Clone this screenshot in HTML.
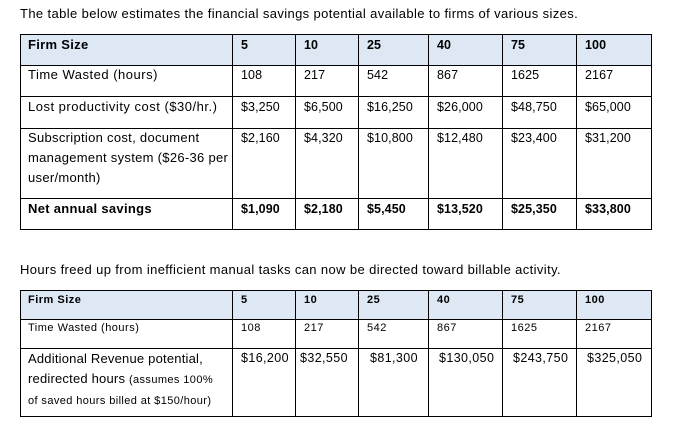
<!DOCTYPE html>
<html><head><meta charset="utf-8"><style>
body{margin:0;width:678px;height:435px;background:#fff;font-family:"Liberation Sans",Arial,sans-serif;color:#000;position:relative;overflow:hidden}
.p{position:absolute;left:20px;font-size:13px;white-space:nowrap;letter-spacing:0.38px}
.l{position:absolute;background:#000}
.c{position:absolute;white-space:nowrap;font-size:12.5px;letter-spacing:0.1px}
.t{font-size:13px;letter-spacing:0.5px}
.s{font-size:11px;letter-spacing:0.5px}
.b{font-weight:bold}
.h{position:absolute;background:#dde8f4}
</style></head><body>
<div class="p" style="top:6px">The table below estimates the financial savings potential available to firms of various sizes.</div>
<div class="p" style="top:262px">Hours freed up from inefficient manual tasks can now be directed toward billable activity.</div>

<!-- table 1 -->
<div class="h" style="left:20px;top:34px;width:632px;height:31px"></div>
<div class="l" style="left:20px;top:34px;width:632px;height:1px"></div>
<div class="l" style="left:20px;top:65px;width:632px;height:1px"></div>
<div class="l" style="left:20px;top:96px;width:632px;height:1px"></div>
<div class="l" style="left:20px;top:128px;width:632px;height:1px"></div>
<div class="l" style="left:20px;top:198px;width:632px;height:1px"></div>
<div class="l" style="left:20px;top:229px;width:632px;height:1px"></div>
<div class="l" style="left:20px;top:34px;width:1px;height:196px"></div>
<div class="l" style="left:232px;top:34px;width:1px;height:196px"></div>
<div class="l" style="left:295px;top:34px;width:1px;height:196px"></div>
<div class="l" style="left:358px;top:34px;width:1px;height:196px"></div>
<div class="l" style="left:428px;top:34px;width:1px;height:196px"></div>
<div class="l" style="left:502px;top:34px;width:1px;height:196px"></div>
<div class="l" style="left:576px;top:34px;width:1px;height:196px"></div>
<div class="l" style="left:651px;top:34px;width:1px;height:196px"></div>

<div class="c t b" style="left:28px;top:37px;letter-spacing:0.3px">Firm Size</div>
<div class="c b" style="left:241px;top:38px">5</div>
<div class="c b" style="left:304px;top:38px">10</div>
<div class="c b" style="left:367px;top:38px">25</div>
<div class="c b" style="left:437px;top:38px">40</div>
<div class="c b" style="left:511px;top:38px">75</div>
<div class="c b" style="left:585px;top:38px">100</div>

<div class="c t" style="left:28px;top:67px">Time Wasted (hours)</div>
<div class="c" style="left:241px;top:68px">108</div>
<div class="c" style="left:304px;top:68px">217</div>
<div class="c" style="left:367px;top:68px">542</div>
<div class="c" style="left:437px;top:68px">867</div>
<div class="c" style="left:511px;top:68px">1625</div>
<div class="c" style="left:585px;top:68px">2167</div>

<div class="c t" style="left:28px;top:99px">Lost productivity cost ($30/hr.)</div>
<div class="c" style="left:241px;top:100px">$3,250</div>
<div class="c" style="left:304px;top:100px">$6,500</div>
<div class="c" style="left:367px;top:100px">$16,250</div>
<div class="c" style="left:437px;top:100px">$26,000</div>
<div class="c" style="left:511px;top:100px">$48,750</div>
<div class="c" style="left:585px;top:100px">$65,000</div>

<div class="c t" style="left:28px;top:128px;line-height:20px;letter-spacing:0.3px">Subscription cost, document<br>management system ($26-36 per<br>user/month)</div>
<div class="c" style="left:241px;top:131px">$2,160</div>
<div class="c" style="left:304px;top:131px">$4,320</div>
<div class="c" style="left:367px;top:131px">$10,800</div>
<div class="c" style="left:437px;top:131px">$12,480</div>
<div class="c" style="left:511px;top:131px">$23,400</div>
<div class="c" style="left:585px;top:131px">$31,200</div>

<div class="c t b" style="left:28px;top:201px;letter-spacing:0.3px">Net annual savings</div>
<div class="c b" style="left:241px;top:202px">$1,090</div>
<div class="c b" style="left:304px;top:202px">$2,180</div>
<div class="c b" style="left:367px;top:202px">$5,450</div>
<div class="c b" style="left:437px;top:202px">$13,520</div>
<div class="c b" style="left:511px;top:202px">$25,350</div>
<div class="c b" style="left:585px;top:202px">$33,800</div>

<!-- table 2 -->
<div class="h" style="left:20px;top:290px;width:632px;height:29px"></div>
<div class="l" style="left:20px;top:290px;width:632px;height:1px"></div>
<div class="l" style="left:20px;top:319px;width:632px;height:1px"></div>
<div class="l" style="left:20px;top:348px;width:632px;height:1px"></div>
<div class="l" style="left:20px;top:416px;width:632px;height:1px"></div>
<div class="l" style="left:20px;top:290px;width:1px;height:127px"></div>
<div class="l" style="left:232px;top:290px;width:1px;height:127px"></div>
<div class="l" style="left:295px;top:290px;width:1px;height:127px"></div>
<div class="l" style="left:358px;top:290px;width:1px;height:127px"></div>
<div class="l" style="left:428px;top:290px;width:1px;height:127px"></div>
<div class="l" style="left:502px;top:290px;width:1px;height:127px"></div>
<div class="l" style="left:576px;top:290px;width:1px;height:127px"></div>
<div class="l" style="left:651px;top:290px;width:1px;height:127px"></div>

<div class="c s b" style="left:28px;top:294px">Firm Size</div>
<div class="c s b" style="left:241px;top:294px">5</div>
<div class="c s b" style="left:304px;top:294px">10</div>
<div class="c s b" style="left:367px;top:294px">25</div>
<div class="c s b" style="left:437px;top:294px">40</div>
<div class="c s b" style="left:511px;top:294px">75</div>
<div class="c s b" style="left:585px;top:294px">100</div>

<div class="c s" style="left:28px;top:322px">Time Wasted (hours)</div>
<div class="c s" style="left:241px;top:322px">108</div>
<div class="c s" style="left:304px;top:322px">217</div>
<div class="c s" style="left:367px;top:322px">542</div>
<div class="c s" style="left:437px;top:322px">867</div>
<div class="c s" style="left:511px;top:322px">1625</div>
<div class="c s" style="left:585px;top:322px">2167</div>

<div class="c t" style="left:28px;top:349px;line-height:20px;letter-spacing:0.2px">Additional Revenue potential,<br>redirected hours <span style="font-size:11px;letter-spacing:0.4px">(assumes 100%</span><br><span style="font-size:11px;letter-spacing:0.4px">of saved hours billed at $150/hour)</span></div>
<div class="c" style="left:241px;top:351px;letter-spacing:0.4px">$16,200</div>
<div class="c" style="left:300px;top:351px;letter-spacing:0.4px">$32,550</div>
<div class="c" style="left:370px;top:351px;letter-spacing:0.4px">$81,300</div>
<div class="c" style="left:439px;top:351px;letter-spacing:0.4px">$130,050</div>
<div class="c" style="left:513px;top:351px;letter-spacing:0.4px">$243,750</div>
<div class="c" style="left:587px;top:351px;letter-spacing:0.4px">$325,050</div>
</body></html>
